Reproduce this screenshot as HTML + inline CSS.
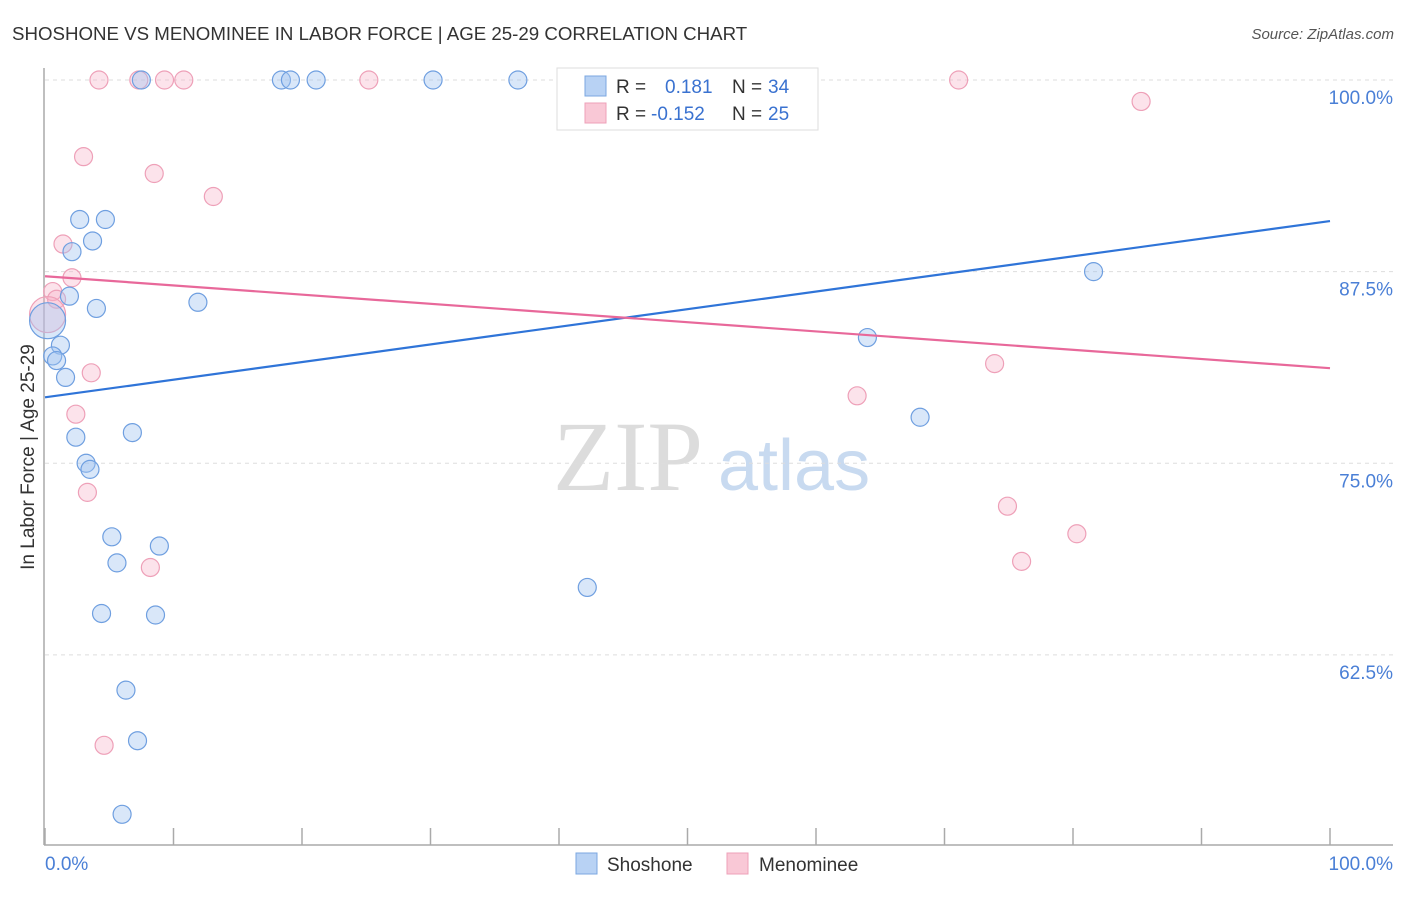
<!DOCTYPE html>
<html><head><meta charset="utf-8"><style>
body{margin:0;background:#fff;font-family:"Liberation Sans",sans-serif}
</style></head><body>
<svg id="c" width="1406" height="892" font-family="Liberation Sans, sans-serif">
<text x="12" y="40" font-size="18.7" fill="#333">SHOSHONE VS MENOMINEE IN LABOR FORCE | AGE 25-29 CORRELATION CHART</text>
<text x="1394" y="39" font-size="15" fill="#555" font-style="italic" text-anchor="end">Source: ZipAtlas.com</text>
<g><text x="553" y="490" font-size="100" fill="#dcdcdc" style="font-family:'Liberation Serif',serif">ZIP</text><text x="718" y="490" font-size="72" fill="#c8daf0">atlas</text></g>
<g id="grid"></g><g id="axes"></g><g id="pts"></g><g id="lines"></g>
<text transform="translate(34,457) rotate(-90)" font-size="19" fill="#333" text-anchor="middle">In Labor Force | Age 25-29</text>
<text x="45" y="870" font-size="19" fill="#4a7fd6">0.0%</text>
<text x="1393" y="870" font-size="19" fill="#4a7fd6" text-anchor="end">100.0%</text>
<g>
<rect x="557" y="68" width="261" height="62" fill="#fff" stroke="#ddd"/>
<rect x="585" y="76" width="21" height="20" fill="#b8d2f4" stroke="#7ba7e0"/>
<rect x="585" y="103" width="21" height="20" fill="#f9c8d6" stroke="#eea0b8"/>
<text x="616" y="93" font-size="19" fill="#333">R = </text><text x="665" y="93" font-size="19" fill="#3a72d0">0.181</text>
<text x="732" y="93" font-size="19" fill="#333">N = </text><text x="768" y="93" font-size="19" fill="#3a72d0">34</text>
<text x="616" y="120" font-size="19" fill="#333">R = </text><text x="651" y="120" font-size="19" fill="#3a72d0">-0.152</text>
<text x="732" y="120" font-size="19" fill="#333">N = </text><text x="768" y="120" font-size="19" fill="#3a72d0">25</text>
</g>
<g><rect x="576" y="853" width="21" height="21" fill="#b8d2f4" stroke="#7ba7e0"/><text x="607" y="871" font-size="19" fill="#333">Shoshone</text></g>
<g><rect x="727" y="853" width="21" height="21" fill="#f9c8d6" stroke="#eea0b8"/><text x="759" y="871" font-size="19" fill="#333">Menominee</text></g>
</svg>
<script>
const yTicks=[100,87.5,75,62.5];
const yTickLabels=["100.0%","87.5%","75.0%","62.5%"];
const shoX=[7.5,18.4,19.1,21.1,30.2,36.8,2.7,4.7,3.7,2.1,1.9,4.0,11.9,0.2,1.2,0.6,0.9,1.6,2.4,6.8,3.2,3.5,5.2,5.6,8.9,4.4,8.6,6.3,7.2,6.0,81.6,64.0,68.1,42.2];
const shoY=[100,100,100,100,100,100,90.9,90.9,89.5,88.8,85.9,85.1,85.5,84.3,82.7,82.0,81.7,80.6,76.7,77.0,75.0,74.6,70.2,68.5,69.6,65.2,65.1,60.2,56.9,52.1,87.5,83.2,78.0,66.9];
const menX=[4.2,7.3,9.3,10.8,25.2,71.1,85.3,3.0,8.5,13.1,1.4,2.1,0.6,0.9,0.2,3.6,2.4,3.3,8.2,4.6,73.9,63.2,74.9,80.3,76.0];
const menY=[100,100,100,100,100,100,98.6,95.0,93.9,92.4,89.3,87.1,86.2,85.7,84.7,80.9,78.2,73.1,68.2,56.6,81.5,79.4,72.2,70.4,68.6];
const shoTrend=[79.3,90.8];
const menTrend=[87.2,81.2];
const NS="http://www.w3.org/2000/svg";
const X=v=>45+v*12.85, Y=v=>80+(100-v)*15.33;
function mk(t,a,p){const e=document.createElementNS(NS,t);for(const k in a)e.setAttribute(k,a[k]);p.appendChild(e);return e;}
const g=document.getElementById('grid');
yTicks.forEach((t,i)=>{
 const l=mk('line',{x1:45,x2:1393,y1:Y(t),y2:Y(t),stroke:'#ddd','stroke-dasharray':'4,4'},g);
 
 
 const tx=mk('text',{x:1393,y:Y(t)+24,'font-size':19,fill:'#4a7fd6','text-anchor':'end'},g);
 tx.textContent=yTickLabels[i];
 
 
});
const ax=document.getElementById('axes');
mk('line',{x1:44,x2:44,y1:68,y2:845,stroke:'#aaa','stroke-width':1.5},ax);
mk('line',{x1:44,x2:1393,y1:845,y2:845,stroke:'#aaa','stroke-width':1.5},ax);
for(let i=0;i<=10;i++){const t=mk('line',{x1:X(i*10),x2:X(i*10),y1:828,y2:845,stroke:'#aaa','stroke-width':1.5},ax);
 
 }
const p=document.getElementById('pts');
function series(xs,ys,fill,stroke,name){xs.forEach((x,i)=>{
 const big=(x<0.5&&ys[i]>84&&ys[i]<85);
 const c=mk('circle',{cx:X(x),cy:Y(ys[i]),r:big?18:9,fill:fill,stroke:stroke,'stroke-width':1.2},p);
 
 });}
series(menX,menY,'rgba(245,175,198,0.35)','#eea0b8','menominee-point');
series(shoX,shoY,'rgba(160,196,240,0.4)','#6f9fe0','shoshone-point');
const ln=document.getElementById('lines');
const a=mk('line',{x1:X(0),x2:X(100),y1:Y(shoTrend[0]),y2:Y(shoTrend[1]),stroke:'#2f74d8','stroke-width':2.2},ln);


const b=mk('line',{x1:X(0),x2:X(100),y1:Y(menTrend[0]),y2:Y(menTrend[1]),stroke:'#e8689a','stroke-width':2.2},ln);


</script>
</body></html>
